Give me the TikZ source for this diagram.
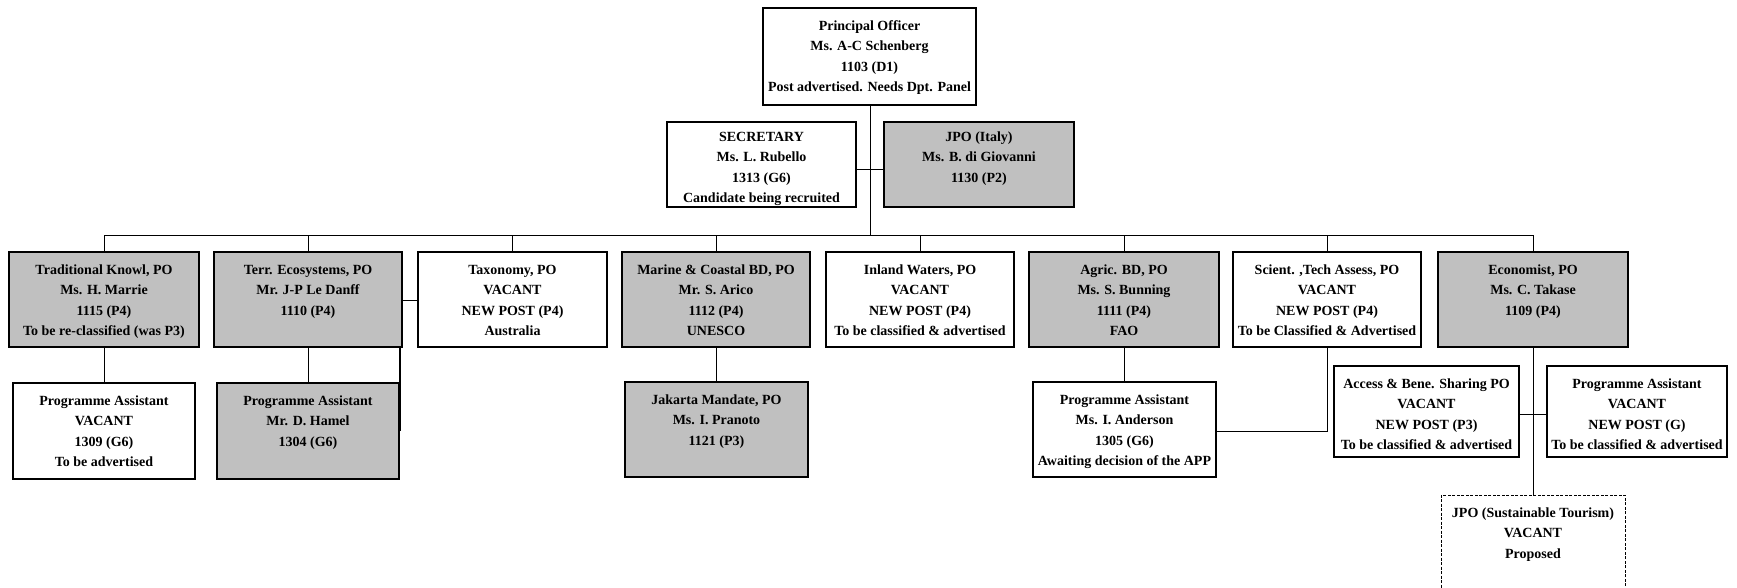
\documentclass[tikz,border=0pt]{standalone}
\usepackage{fontspec}
\setmainfont{Liberation Serif}
\definecolor{boxgray}{RGB}{192,192,192}
\tikzset{
  orgbox/.style={draw=black, line width=1.2pt, inner sep=0pt, outer sep=0pt,
    font=\bfseries\fontsize{14}{20.4}\selectfont},
  filledbox/.style={orgbox, fill=boxgray},
  plainbox/.style={orgbox, fill=white},
  proposedbox/.style={orgbox, line width=0.9pt, dash pattern=on 3pt off 1.5pt, fill=white},
  link/.style={draw=black, line width=1pt},
  thicklink/.style={draw=black, line width=2pt},
}
% name, style, x1, y1, x2, y2, top gap, text
\newcommand\obox[8]{%
  \node[#2] (#1) at ({(#3+#5)/2},{(#4+#6)/2})
    {\parbox[c][\dimexpr#6pt-#4pt\relax][t]{\dimexpr#5pt-#3pt\relax}{\centering\vspace*{#7pt}\strut#8}};}
\begin{document}
\begin{tikzpicture}[x=1pt,y=-1pt]
\useasboundingbox (0,0) rectangle (1737,588);
\clip (0,0) rectangle (1737,588);
\fill[white] (0,0) rectangle (1737,588);

% top
\obox{P}{plainbox}{763}{8}{976}{105}{8.2}{Principal Officer\\Ms. A-C Schenberg\\1103 (D1)\\Post advertised. Needs Dpt. Panel}
\obox{S}{plainbox}{667}{122}{856}{207}{5}{SECRETARY\\Ms. L. Rubello\\1313 (G6)\\Candidate being recruited}
\obox{J}{filledbox}{884}{122}{1074}{207}{5}{JPO (Italy)\\Ms. B. di Giovanni\\1130 (P2)}

% row 2
\obox{Tr}{filledbox}{9}{252}{199}{347}{8}{Traditional Knowl, PO\\Ms. H. Marrie\\1115 (P4)\\To be re-classified (was P3)}
\obox{Te}{filledbox}{214}{252}{402}{347}{8}{Terr. Ecosystems, PO\\Mr. J-P Le Danff\\1110 (P4)}
\obox{Ta}{plainbox}{418}{252}{607}{347}{8}{Taxonomy, PO\\VACANT\\NEW POST (P4)\\Australia}
\obox{Ma}{filledbox}{622}{252}{810}{347}{8}{Marine \& Coastal BD, PO\\Mr. S. Arico\\1112 (P4)\\UNESCO}
\obox{In}{plainbox}{826}{252}{1014}{347}{8}{Inland Waters, PO\\VACANT\\NEW POST (P4)\\To be classified \& advertised}
\obox{Ag}{filledbox}{1029}{252}{1219}{347}{8}{Agric. BD, PO\\Ms. S. Bunning\\1111 (P4)\\FAO}
\obox{Sc}{plainbox}{1233}{252}{1421}{347}{8}{Scient. ,Tech Assess, PO\\VACANT\\NEW POST (P4)\\To be Classified \& Advertised}
\obox{Ec}{filledbox}{1438}{252}{1628}{347}{8}{Economist, PO\\Ms. C. Takase\\1109 (P4)}

% row 3
\obox{PA1}{plainbox}{13}{383}{195}{479}{8}{Programme Assistant\\VACANT\\1309 (G6)\\To be advertised}
\obox{Ha}{filledbox}{217}{383}{399}{479}{8}{Programme Assistant\\Mr. D. Hamel\\1304 (G6)}
\obox{Ja}{filledbox}{625}{382}{808}{477}{8}{Jakarta Mandate, PO\\Ms. I. Pranoto\\1121 (P3)}
\obox{An}{plainbox}{1033}{382}{1216}{477}{8}{Programme Assistant\\Ms. I. Anderson\\1305 (G6)\\Awaiting decision of the APP}
\obox{Ac}{plainbox}{1334}{366}{1519}{457}{8}{Access \& Bene. Sharing PO\\VACANT\\NEW POST (P3)\\To be classified \& advertised}
\obox{PA2}{plainbox}{1547}{366}{1727}{457}{8}{Programme Assistant\\VACANT\\NEW POST (G)\\To be classified \& advertised}
\obox{JS}{proposedbox}{1441}{495}{1625}{600}{8}{JPO (Sustainable Tourism)\\VACANT\\Proposed}

% connectors
\coordinate (hbM) at (870,235);
\coordinate (hbL) at (104,235);
\coordinate (hbR) at (1533,235);
\coordinate (sj) at (870,170);
\draw[link] (P.south -| hbM) -- (hbM);
\draw[link] (S.east |- sj) -- (J.west |- sj);
\draw[link] (Tr.north |- hbL) -- (Ec.north |- hbR);
\foreach \n in {Tr,Te,Ta,Ma,In,Ag,Sc,Ec} {\draw[link] (\n.north) -- (\n.north |- hbL);}
\draw[link] (Tr.south) -- (Tr.south |- PA1.north);
\draw[link] (Te.south) -- (Te.south |- Ha.north);
\coordinate (tt) at (400,300);
\coordinate (tb) at (400,431);
\draw[link] (Ta.west |- tt) -- (Te.east |- tt);
\draw[thicklink] (Te.south -| tb) -- (tb);
\draw[link] (Ma.south) -- (Ma.south |- Ja.north);
\draw[link] (Ag.south) -- (Ag.south |- An.north);
\coordinate (sa) at (1327,431);
\draw[link] (Sc.south) |- (An.east |- sa);
\draw[link] (Ec.south) -- (Ec.south |- JS.north);
\coordinate (ap) at (1533,414);
\draw[link] (Ac.east |- ap) -- (PA2.west |- ap);
\end{tikzpicture}
\end{document}
